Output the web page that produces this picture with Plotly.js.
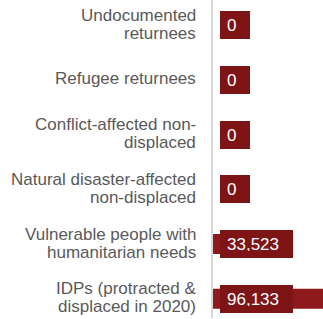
<!DOCTYPE html>
<html>
<head>
<meta charset="utf-8">
<script src="https://cdn.plot.ly/plotly-3.0.1.min.js"></script>
<style>html,body{margin:0;padding:0;background:#fff;}#chart{width:323px;height:319px;}</style>
</head>
<body>
<div id="chart"></div>
<script>
var categories = [
  "Undocumented returnees",
  "Refugee returnees",
  "Conflict-affected non-displaced",
  "Natural disaster-affected non-displaced",
  "Vulnerable people with humanitarian needs",
  "IDPs (protracted & displaced in 2020)"
];
var categoryLines = [
  ["Undocumented", "returnees"],
  ["Refugee returnees"],
  ["Conflict-affected non-", "displaced"],
  ["Natural disaster-affected", "non-displaced"],
  ["Vulnerable people with", "humanitarian needs"],
  ["IDPs (protracted &amp;", "displaced in 2020)"]
];
var values = [0, 0, 0, 0, 33523, 96133];
var valueLabels = ["0", "0", "0", "0", "33,523", "96,133"];

var idx = categories.map(function(c, i){ return i; });
var font = "Arial, 'Liberation Sans', sans-serif";

var annotations = [];
values.forEach(function(v, i){
  var t = valueLabels[i];
  annotations.push({
    x: 0, y: i, xref: 'x', yref: 'y',
    xanchor: 'left', yanchor: 'middle', xshift: 7,
    text: t, showarrow: false,
    bgcolor: '#7d1416', borderpad: 7, borderwidth: 0,
    width: t.length === 1 ? 16 : 59, height: 14,
    align: 'left', valign: 'middle',
    font: {family: font, size: 17, color: '#ffffff'}
  });
});
categoryLines.forEach(function(lines, i){
  var n = lines.length;
  lines.forEach(function(line, j){
    annotations.push({
      x: 0, y: i, xref: 'paper', yref: 'y',
      xanchor: 'right', yanchor: 'middle', xshift: -15,
      yshift: ((n - 1) / 2 - j) * 18 + 1,
      text: line, showarrow: false, align: 'right',
      font: {family: font, size: 17, color: '#595959'}
    });
  });
});

Plotly.newPlot('chart', [{
  type: 'bar', orientation: 'h',
  x: values, y: idx,
  text: categories, textposition: 'none',
  width: 0.365,
  marker: {color: '#8f1a1c'},
  hoverinfo: 'none'
}], {
  width: 323, height: 319,
  margin: {l: 213, r: 0, t: 0, b: 1, pad: 0},
  paper_bgcolor: '#fff', plot_bgcolor: '#fff',
  showlegend: false,
  xaxis: {range: [0, 96133], visible: false, fixedrange: true},
  yaxis: {
    range: [5.35, -0.46],
    tickvals: idx, showticklabels: false,
    showgrid: false, zeroline: false,
    showline: true, linecolor: '#d9d9d9', linewidth: 2,
    ticks: ''
  },
  annotations: annotations
}, {displayModeBar: false, staticPlot: true});
</script>
</body>
</html>
